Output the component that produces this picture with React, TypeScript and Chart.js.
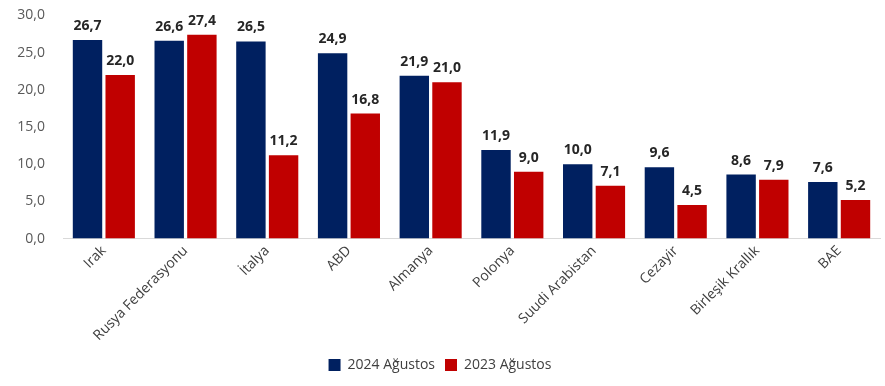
import React, { useEffect, useRef } from "react";
import { Chart, registerables } from "chart.js";

Chart.register(...registerables);

const categories = ["Irak", "Rusya Federasyonu", "İtalya", "ABD", "Almanya", "Polonya", "Suudi Arabistan", "Cezayir", "Birleşik Krallık", "BAE"];
const series2024 = [26.7, 26.6, 26.5, 24.9, 21.9, 11.9, 10.0, 9.6, 8.6, 7.6];
const series2023 = [22.0, 27.4, 11.2, 16.8, 21.0, 9.0, 7.1, 4.5, 7.9, 5.2];
const seriesNames = ["2024 Ağustos", "2023 Ağustos"];
const yTicks = [0, 5, 10, 15, 20, 25, 30];

const fmt = (v: number) => v.toFixed(1).replace(".", ",");
const FONT = "'Open Sans', 'Liberation Sans', sans-serif";

const labelPlugin = {
  id: "valueLabels",
  afterDatasetsDraw(chart: any) {
    const ctx = chart.ctx;
    ctx.save();
    ctx.font = `bold 14px ${FONT}`;
    ctx.fillStyle = "#262626";
    ctx.textAlign = "center";
    ctx.textBaseline = "bottom";
    chart.data.datasets.forEach((ds: any, di: number) => {
      const meta = chart.getDatasetMeta(di);
      meta.data.forEach((bar: any, i: number) => {
        ctx.fillText(fmt(ds.data[i]), bar.x, bar.y - 7);
      });
    });
    ctx.restore();
  },
};

export default function App() {
  const ref = useRef<HTMLCanvasElement | null>(null);
  useEffect(() => {
    if (!ref.current) return;
    const chart = new Chart(ref.current, {
      type: "bar",
      data: {
        labels: categories,
        datasets: [
          { label: seriesNames[0], data: series2024, backgroundColor: "#002060", borderWidth: 0 },
          { label: seriesNames[1], data: series2023, backgroundColor: "#C00000", borderWidth: 0 },
        ],
      },
      options: {
        animation: false,
        responsive: false,
        layout: { padding: { top: 0, right: 5, left: 0, bottom: 4 } },
        plugins: {
          legend: {
            position: "bottom",
            labels: {
              boxWidth: 12,
              boxHeight: 12,
              padding: 10,
              color: "#404040",
              font: { family: FONT, size: 14 },
            },
          },
          tooltip: { enabled: false },
        },
        scales: {
          x: {
            grid: { display: false, drawTicks: false },
            border: { color: "#D9D9D9" },
            ticks: {
              maxRotation: 45,
              minRotation: 45,
              color: "#404040",
              padding: 4,
              font: { family: FONT, size: 14 },
            },
            categoryPercentage: 0.77,
            barPercentage: 1,
          } as any,
          y: {
            min: 0,
            max: 30,
            afterBuildTicks: (axis: any) => {
              axis.ticks = yTicks.map((v) => ({ value: v }));
            },
            grid: { display: false, drawTicks: false },
            border: { display: false },
            afterFit: (axis: any) => {
              axis.width = 63;
            },
            ticks: {
              color: "#595959",
              padding: 18,
              font: { family: FONT, size: 14 },
              callback: (v: any) => fmt(Number(v)),
            },
          },
        },
      },
      plugins: [labelPlugin],
    });
    return () => chart.destroy();
  }, []);
  return (
    <div style={{ position: "absolute", left: 0, top: 0, width: 885, height: 386, overflow: "hidden", background: "#fff" }}>
      <canvas ref={ref} width={885} height={397} style={{ position: "absolute", left: 0, top: -11 }} />
    </div>
  );
}
